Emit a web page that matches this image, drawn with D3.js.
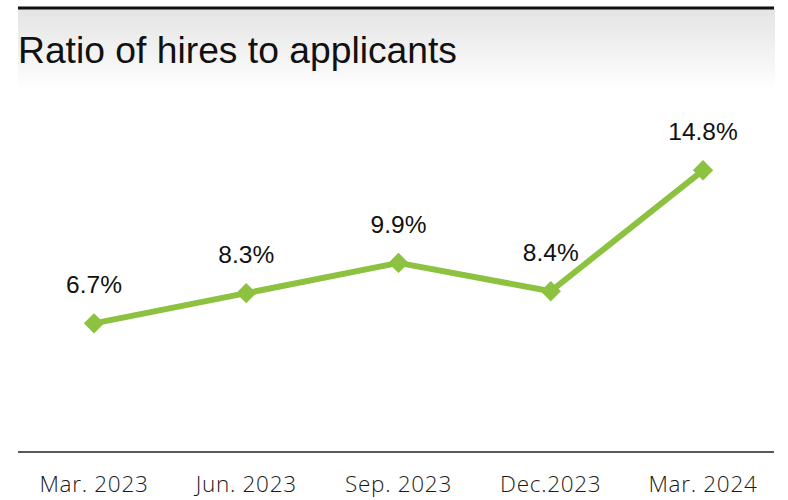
<!DOCTYPE html>
<html>
<head>
<meta charset="utf-8">
<script src="https://cdn.jsdelivr.net/npm/d3@7"></script>
<style>
  html, body { margin: 0; padding: 0; background: #fff; }
  svg { display: block; }
</style>
</head>
<body>
<svg id="chart" width="788" height="500"></svg>
<script>
// Quarterly ratio of hires to applicants (%)
const categories = ["Mar. 2023", "Jun. 2023", "Sep. 2023", "Dec.2023", "Mar. 2024"];
const ratioValues = [6.7, 8.3, 9.9, 8.4, 14.8];
const valueLabels = ["6.7%", "8.3%", "9.9%", "8.4%", "14.8%"];
const titleText = "Ratio of hires to applicants";

const svg = d3.select("#chart");
const left = 18, right = 774;

// Header band with a soft grey-to-white gradient
const defs = svg.append("defs");
const grad = defs.append("linearGradient")
  .attr("id", "headerFade").attr("x1", 0).attr("y1", 0).attr("x2", 0).attr("y2", 1);
grad.append("stop").attr("offset", "0%").attr("stop-color", "#e4e4e4");
grad.append("stop").attr("offset", "100%").attr("stop-color", "#ffffff");

svg.append("rect")
  .attr("x", left).attr("y", 9)
  .attr("width", right - left + 1).attr("height", 82)
  .attr("fill", "url(#headerFade)");

svg.append("line")
  .attr("x1", left).attr("x2", right)
  .attr("y1", 8).attr("y2", 8)
  .attr("stroke", "#111").attr("stroke-width", 3);

svg.append("text")
  .attr("x", left).attr("y", 63)
  .attr("font-family", "'Liberation Sans', Arial, sans-serif")
  .attr("font-size", 37)
  .attr("fill", "#111")
  .attr("textLength", 439)
  .attr("lengthAdjust", "spacingAndGlyphs")
  .text(titleText);

// Scales
const x = d3.scalePoint().domain(categories).range([94, 703]);
const y = d3.scaleLinear().domain([0, 16]).range([450, 147.6]);

// Category axis
const axisY = 452;
svg.append("line")
  .attr("x1", left).attr("x2", right)
  .attr("y1", axisY).attr("y2", axisY)
  .attr("stroke", "#595959").attr("stroke-width", 2);

svg.append("g").selectAll("text")
  .data(categories)
  .join("text")
  .attr("x", d => x(d))
  .attr("y", 492)
  .attr("text-anchor", "middle")
  .attr("font-family", "'Open Sans', 'Noto Sans', sans-serif")
  .attr("font-weight", 300)
  .attr("font-size", 22.5)
  .attr("letter-spacing", 0.7)
  .attr("fill", "#1a1a1a")
  .text(d => d);

// Series line
const data = categories.map((c, i) => ({ cat: c, v: ratioValues[i], label: valueLabels[i] }));
const green = "#8cc23f";

svg.append("path")
  .datum(data)
  .attr("fill", "none")
  .attr("stroke", green)
  .attr("stroke-width", 6)
  .attr("stroke-linejoin", "round")
  .attr("d", d3.line().x(d => x(d.cat)).y(d => y(d.v)));

// Diamond markers
svg.append("g").selectAll("path")
  .data(data)
  .join("path")
  .attr("transform", d => `translate(${x(d.cat)},${y(d.v)})`)
  .attr("d", d3.symbol(d3.symbolDiamond2, 264)())
  .attr("fill", green);

// Value labels
svg.append("g").selectAll("text")
  .data(data)
  .join("text")
  .attr("x", d => x(d.cat))
  .attr("y", d => y(d.v) - 30)
  .attr("text-anchor", "middle")
  .attr("font-family", "'Liberation Sans', Arial, sans-serif")
  .attr("font-size", 24.5)
  .attr("fill", "#111")
  .text(d => d.label);
</script>
</body>
</html>
